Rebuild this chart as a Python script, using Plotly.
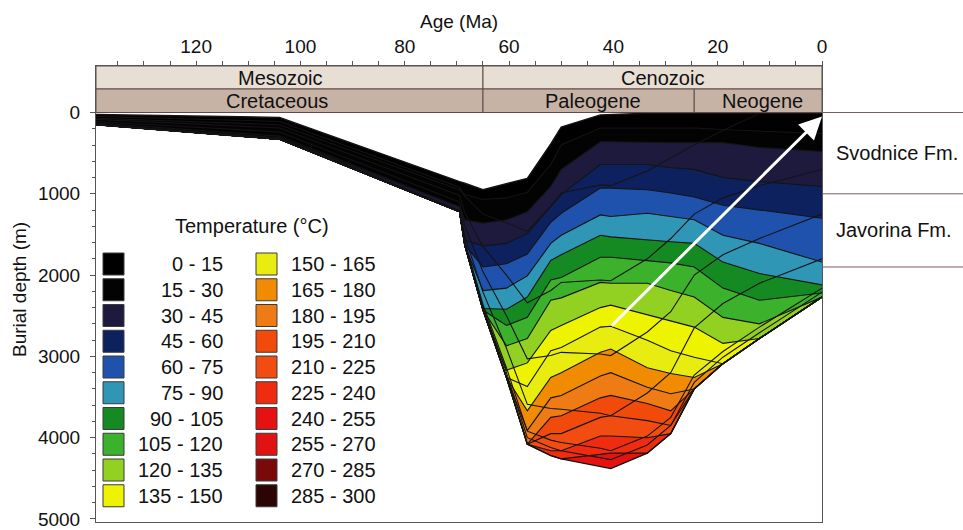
import numpy as np
import plotly.graph_objects as go

# ---------------- data ----------------
ages = [139.2, 104, 69.5, 68.5, 65, 60.5, 56.5, 52, 50, 42.5, 40.5, 33.5, 29, 24.5, 19, 12, 0]
top_depth = [25, 60, 850, 870, 950, 875, 810, 385, 178, 30, 25, 10, 10, 10, 10, 10, 10]
base_depth = [150, 330, 1220, 1630, 2430, 3260, 4080, 4220, 4260, 4350, 4380, 4190, 3950, 3400, 3090, 2780, 2270]

# isotherm depths (m) at each age node (values at/below base = isotherm not reached)
iso_015 = [70, 150, 950, 1010, 1070, 1050, 980, 640, 400, 190, 190, 190, 190, 190, 210, 230, 260]
iso_030 = [150, 310, 1160, 1320, 1360, 1320, 1220, 910, 700, 360, 360, 370, 370, 370, 370, 430, 480]
iso_045 = [150, 330, 1210, 1570, 1640, 1610, 1490, 1160, 1010, 640, 640, 640, 680, 700, 800, 850, 910]
iso_060 = [150, 330, 1220, 1630, 1900, 1860, 1740, 1350, 1240, 930, 930, 950, 990, 1040, 1140, 1200, 1300]
iso_075 = [150, 330, 1220, 1630, 2190, 2160, 2010, 1610, 1510, 1260, 1280, 1240, 1280, 1320, 1510, 1610, 1840]
iso_090 = [150, 330, 1220, 1630, 2410, 2420, 2270, 1820, 1750, 1510, 1530, 1570, 1590, 1610, 1840, 1980, 2120]
iso_105 = [150, 330, 1220, 1630, 2430, 2620, 2520, 2060, 2030, 1780, 1780, 1820, 1850, 1900, 2160, 2310, 2220]
iso_120 = [150, 330, 1220, 1630, 2430, 2870, 2780, 2310, 2280, 2090, 2100, 2100, 2190, 2270, 2520, 2600, 2270]
iso_135 = [150, 330, 1220, 1630, 2430, 3170, 3080, 2680, 2620, 2400, 2370, 2490, 2560, 2640, 2840, 2780, 2270]
iso_150 = [150, 330, 1220, 1630, 2430, 3260, 3370, 2930, 2890, 2640, 2630, 2800, 2930, 3010, 3090, 2780, 2270]
iso_165 = [150, 330, 1220, 1630, 2430, 3260, 3670, 3260, 3200, 2950, 2910, 3140, 3210, 3260, 3090, 2780, 2270]
iso_180 = [150, 330, 1220, 1630, 2430, 3260, 3910, 3510, 3480, 3240, 3200, 3380, 3460, 3400, 3090, 2780, 2270]
iso_195 = [150, 330, 1220, 1630, 2430, 3260, 4080, 3750, 3730, 3510, 3480, 3580, 3670, 3400, 3090, 2780, 2270]
iso_210 = [150, 330, 1220, 1630, 2430, 3260, 4080, 3950, 3950, 3750, 3730, 3790, 3850, 3400, 3090, 2780, 2270]
iso_225 = [150, 330, 1220, 1630, 2430, 3260, 4080, 4160, 4160, 3980, 3980, 4000, 3950, 3400, 3090, 2780, 2270]
iso_240 = [150, 330, 1220, 1630, 2430, 3260, 4080, 4220, 4260, 4200, 4190, 4190, 3950, 3400, 3090, 2780, 2270]

# burial curves of internal horizons (m)
hz_1 = [50, 110, 920, 1030, 1250, 1360, 1460, 1150, 990, 890, 900, 720, 560, 400, 220, 10, 10]
hz_2 = [85, 190, 1020, 1230, 1650, 2000, 2340, 2190, 2090, 2060, 2070, 1800, 1550, 1250, 1050, 900, 700]
hz_3 = [110, 240, 1100, 1390, 1960, 2500, 3030, 2990, 2950, 2970, 2990, 2700, 2450, 2000, 1750, 1550, 1250]
hz_4 = [130, 290, 1160, 1520, 2210, 2900, 3590, 3640, 3650, 3700, 3730, 3450, 3200, 2650, 2350, 2100, 1800]
hz_5 = [145, 315, 1200, 1590, 2360, 3140, 3920, 4030, 4060, 4130, 4160, 3980, 3750, 3230, 2940, 2640, 2160]
hz_6 = [147, 323, 1210, 1610, 2390, 3200, 4000, 4120, 4160, 4240, 4270, 4090, 3850, 3320, 3010, 2710, 2210]

temp_breaks = [0, 15, 30, 45, 60, 75, 90, 105, 120, 135, 150, 165, 180, 195, 210, 225, 240, 255, 270, 285, 300]
band_colors = ["#000000", "#030303", "#1d1a3e", "#0e215f", "#1f52ad", "#2f96b6", "#168a22", "#3cb12c",
               "#92d122", "#eef300", "#e9ec10", "#f18c02", "#ee7b14", "#f24a0a", "#f14d12", "#ef2c10",
               "#e61212", "#e01212", "#7a0a0a", "#2c0404"]

era_names = ["Mesozoic", "Cenozoic"]
era_start = [139.2, 65]
era_end = [65, 0]
period_names = ["Cretaceous", "Paleogene", "Neogene"]
period_start = [139.2, 65, 24.5]
period_end = [65, 24.5, 0]

fm_names = ["Svodnice Fm.", "Javorina Fm."]
fm_top = [0, 1000]
fm_base = [1000, 1900]

arrow_start = (40.6, 2640)
arrow_end = (0, 50)

# ---------------- figure ----------------
W, H = 963, 530
ML, MR, MT, MB = 96, 141, 66, 8
PW, PH = W - ML - MR, H - MT - MB
YR = [5037, -572]
FONT = "Liberation Sans, Arial, sans-serif"
TXT = "#111111"


def px(xp, yp):
    return (xp - ML) / PW, (H - MB - yp) / PH


fig = go.Figure()
x_fwd = list(ages)
x_rev = list(ages[::-1])
top = np.array(top_depth, float)
base = np.array(base_depth, float)
iso_list = [iso_015, iso_030, iso_045, iso_060, iso_075, iso_090, iso_105, iso_120,
            iso_135, iso_150, iso_165, iso_180, iso_195, iso_210, iso_225, iso_240]
isos = [np.clip(np.array(a, float), top, base) for a in iso_list]
uppers = [top] + isos

# stacked painting: each band filled from its upper isotherm down to the base
for k, up in enumerate(uppers):
    if np.all(base - up <= 0):
        continue
    fig.add_trace(go.Scatter(x=x_fwd + x_rev, y=list(up) + list(base[::-1]), mode="lines",
                             fill="toself", fillcolor=band_colors[k], line=dict(width=0),
                             hoverinfo="skip", showlegend=False))

line_col = "#141414"
for iso in isos:
    fig.add_trace(go.Scatter(x=x_fwd, y=list(iso), mode="lines",
                             line=dict(color=line_col, width=1.1), hoverinfo="skip", showlegend=False))
for hz in [hz_1, hz_2, hz_3, hz_4, hz_5, hz_6]:
    h = np.clip(np.array(hz, float), top, base)
    fig.add_trace(go.Scatter(x=x_fwd, y=list(h), mode="lines",
                             line=dict(color=line_col, width=1.1), hoverinfo="skip", showlegend=False))
for edge in [top, base]:
    fig.add_trace(go.Scatter(x=x_fwd, y=list(edge), mode="lines",
                             line=dict(color=line_col, width=1.4), hoverinfo="skip", showlegend=False))

shapes = []
annotations = []

# geological time header
hdr_line = "#5e4b48"
y_top, y_mid, y_bot = -572, -289, 0
for name, s, e in zip(era_names, era_start, era_end):
    shapes.append(dict(type="rect", xref="x", yref="y", x0=s, x1=e, y0=y_top, y1=y_mid,
                       fillcolor="#e7ded4", line=dict(color=hdr_line, width=1), layer="above"))
for name, s, e in zip(period_names, period_start, period_end):
    shapes.append(dict(type="rect", xref="x", yref="y", x0=s, x1=e, y0=y_mid, y1=y_bot,
                       fillcolor="#c6b3a5", line=dict(color=hdr_line, width=1), layer="above"))
era_label_x = [104, 30.5]
period_label_x = [104.5, 44, 11.5]
for name, lx in zip(era_names, era_label_x):
    annotations.append(dict(x=lx, y=(y_top + y_mid) / 2, xref="x", yref="y", text=name, showarrow=False,
                            font=dict(family=FONT, size=20, color=TXT), xanchor="center", yanchor="middle"))
for name, lx in zip(period_names, period_label_x):
    annotations.append(dict(x=lx, y=(y_mid + y_bot) / 2, xref="x", yref="y", text=name, showarrow=False,
                            font=dict(family=FONT, size=20, color=TXT), xanchor="center", yanchor="middle"))

# formation panel to the right
fm_line = "#7a5c5c"
for d in sorted(set(fm_top + fm_base)):
    shapes.append(dict(type="line", xref="paper", yref="y", x0=1.0, x1=(W - ML) / PW, y0=d, y1=d,
                       line=dict(color=fm_line, width=1)))
for name, t, b in zip(fm_names, fm_top, fm_base):
    annotations.append(dict(x=(834 - ML) / PW, y=(t + b) / 2, xref="paper", yref="y", text=name,
                            showarrow=False, xanchor="left", yanchor="middle",
                            font=dict(family=FONT, size=20, color=TXT)))

# white arrow
annotations.append(dict(x=arrow_end[0], y=arrow_end[1], ax=arrow_start[0], ay=arrow_start[1],
                        xref="x", yref="y", axref="x", ayref="y", text="", showarrow=True,
                        arrowcolor="white", arrowwidth=3, arrowhead=2, arrowsize=1.5, standoff=0))

# legend
lx0, ly0 = px(252, 226)
annotations.append(dict(x=lx0, y=ly0, xref="paper", yref="paper", text="Temperature (°C)", showarrow=False,
                        xanchor="center", yanchor="middle", font=dict(family=FONT, size=20, color=TXT)))
n_rows = 10
for i in range(len(band_colors)):
    col, row = divmod(i, n_rows)
    cy = 264 + 25.75 * row
    sx0 = 103 if col == 0 else 256
    sx1 = sx0 + 21
    tx = 225 if col == 0 else 378
    a0, b0 = px(sx0, cy - 11)
    a1, b1 = px(sx1, cy + 11)
    shapes.append(dict(type="rect", xref="paper", yref="paper", x0=a0, x1=a1, y0=b1, y1=b0,
                       fillcolor=band_colors[i], line=dict(color="#3a3a3a", width=1)))
    tx_p, ty_p = px(tx, cy)
    annotations.append(dict(x=tx_p, y=ty_p, xref="paper", yref="paper",
                            text=f"{temp_breaks[i]} - {temp_breaks[i + 1]}", showarrow=False,
                            xanchor="right", yanchor="middle", font=dict(family=FONT, size=20, color=TXT)))

# axis titles
ax_p = px(459, 21)
annotations.append(dict(x=ax_p[0], y=ax_p[1], xref="paper", yref="paper", text="Age (Ma)", showarrow=False,
                        xanchor="center", yanchor="middle", font=dict(family=FONT, size=19, color=TXT)))
ay_p = px(19, 290)
annotations.append(dict(x=ay_p[0], y=ay_p[1], xref="paper", yref="paper", text="Burial depth (m)",
                        showarrow=False, textangle=-90, xanchor="center", yanchor="middle",
                        font=dict(family=FONT, size=19, color=TXT)))

fig.update_layout(
    width=W, height=H, margin=dict(l=ML, r=MR, t=MT, b=MB, pad=0, autoexpand=False),
    paper_bgcolor="white", plot_bgcolor="white",
    shapes=shapes, annotations=annotations, showlegend=False,
    font=dict(family=FONT, color=TXT),
    xaxis=dict(range=[139.2, 0], side="top", tick0=0, dtick=20, ticks="outside", ticklen=4,
               tickcolor="#555", minor=dict(dtick=5, tick0=0, ticks="outside", ticklen=4, tickcolor="#555"),
               showline=True, mirror=True, linecolor="#555", linewidth=1, showgrid=False, zeroline=False,
               automargin=False, tickfont=dict(family=FONT, size=19, color=TXT)),
    yaxis=dict(range=YR, tickmode="array", tickvals=[0, 1000, 2000, 3000, 4000, 5000], ticks="outside",
               ticklen=5, tickcolor="#555",
               minor=dict(tickmode="array", tickvals=[v for v in range(200, 5000, 200) if v % 1000],
                          ticks="outside", ticklen=3, tickcolor="#555"),
               showline=True, mirror=True, linecolor="#555", linewidth=1, showgrid=False, zeroline=False,
               automargin=False, ticklabelstandoff=6, tickfont=dict(family=FONT, size=19, color=TXT)),
)

fig.write_html("out.html", config={"displayModeBar": False},
               post_script="document.body.style.margin='0px';document.body.style.overflow='hidden';")
